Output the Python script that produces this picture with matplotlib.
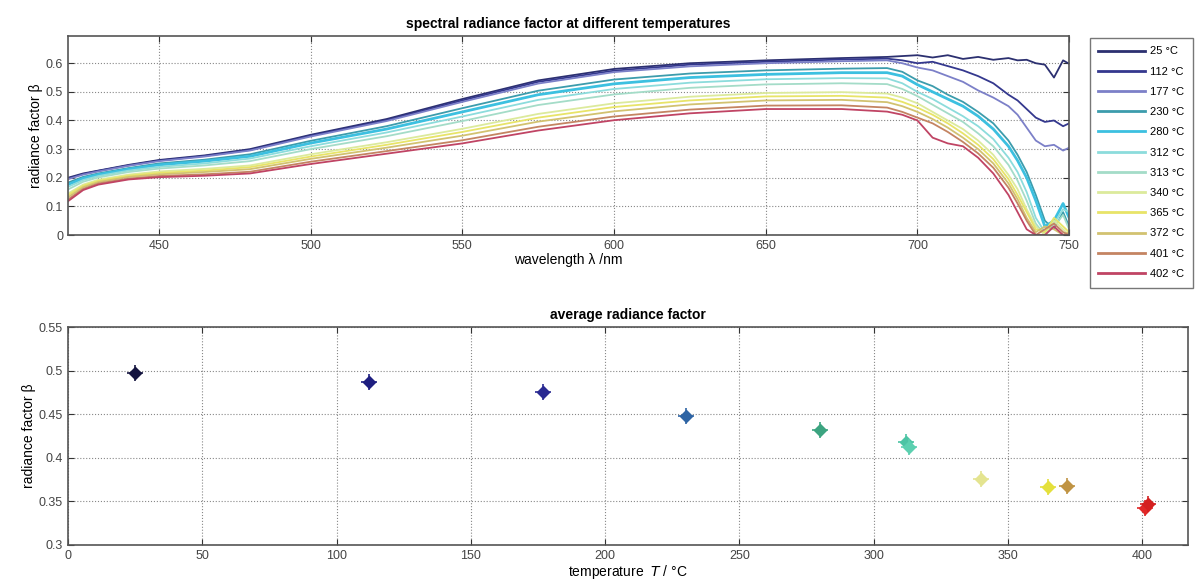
import matplotlib
matplotlib.use("Agg")
import matplotlib.pyplot as plt
import numpy as np

plt.rcParams['font.family'] = ['Liberation Sans', 'DejaVu Sans']

# wavelength nodes (nm)
wavelength = [420, 425, 430, 440, 450, 465, 480, 500, 525, 550, 575, 600, 625, 650, 675, 690,
              695, 700, 705, 710, 715, 720, 725, 730, 733, 736, 739, 742, 745, 748, 750]

temps = [25, 112, 177, 230, 280, 312, 313, 340, 365, 372, 401, 402]

r25 = [.200, .215, .225, .245, .262, .278, .300, .350, .405, .475, .540, .580, .600, .610, .618, .622,
       .625, .628, .620, .628, .615, .622, .612, .618, .610, .612, .600, .595, .550, .610, .598]
r112 = [.197, .213, .224, .243, .260, .276, .297, .347, .401, .470, .535, .574, .595, .605, .613, .616,
        .610, .600, .605, .590, .575, .555, .530, .490, .470, .440, .410, .395, .400, .380, .390]
r177 = [.195, .211, .222, .242, .258, .274, .295, .344, .398, .465, .529, .569, .589, .600, .607, .610,
        .600, .585, .575, .555, .535, .505, .480, .450, .420, .375, .330, .310, .315, .295, .305]
r230 = [.183, .203, .215, .234, .250, .263, .282, .329, .380, .443, .504, .543, .564, .575, .581, .583,
        .570, .540, .520, .490, .465, .430, .390, .330, .280, .220, .140, .050, .020, .080, .030]
r280 = [.176, .198, .211, .230, .245, .258, .275, .321, .370, .430, .490, .528, .550, .561, .567, .567,
        .555, .525, .500, .475, .450, .415, .370, .310, .260, .200, .120, .030, .050, .110, .060]
r312 = [.168, .192, .206, .225, .238, .250, .267, .310, .358, .414, .472, .510, .532, .544, .548, .547,
        .530, .500, .475, .445, .415, .380, .335, .270, .220, .150, .060, .010, .040, .090, .080]
r313 = [.159, .186, .201, .220, .232, .243, .258, .300, .345, .398, .454, .491, .514, .526, .530, .527,
        .510, .485, .455, .425, .395, .355, .310, .245, .190, .120, .040, .000, .030, .070, .020]
r340 = [.145, .176, .193, .211, .222, .231, .243, .282, .324, .371, .423, .460, .483, .496, .499, .494,
        .480, .460, .430, .400, .370, .330, .280, .210, .160, .090, .030, .000, .050, .020, .000]
r365 = [.139, .172, .189, .207, .217, .225, .237, .274, .315, .360, .410, .447, .470, .484, .486, .480,
        .465, .445, .420, .390, .355, .315, .265, .195, .140, .080, .020, .010, .060, .030, .010]
r372 = [.132, .167, .185, .203, .212, .220, .230, .266, .305, .347, .396, .432, .456, .470, .472, .464,
        .450, .430, .405, .375, .340, .300, .250, .180, .125, .060, .010, .030, .020, .000, .010]
r401 = [.124, .161, .180, .197, .206, .212, .221, .256, .293, .331, .378, .414, .438, .452, .453, .445,
        .430, .410, .390, .360, .325, .285, .235, .165, .110, .050, .000, .020, .040, .010, .000]
r402 = [.118, .157, .176, .194, .202, .207, .215, .248, .284, .320, .365, .401, .425, .440, .440, .431,
        .420, .400, .340, .320, .310, .270, .215, .140, .080, .020, .000, .000, .030, .000, .000]

spectra = [r25, r112, r177, r230, r280, r312, r313, r340, r365, r372, r401, r402]

# average radiance factor per temperature
avg_beta = [0.497, 0.487, 0.476, 0.448, 0.432, 0.418, 0.412, 0.376, 0.366, 0.368, 0.342, 0.347]

line_colors = ['#2c3070', '#34388e', '#7c80c8', '#3c9cac', '#3cc0e0', '#8cdcdc',
               '#a4dcc8', '#dcea9c', '#e8e468', '#d2c270', '#c48462', '#c04464']
marker_colors = ['#141440', '#1e1e80', '#2a2a92', '#2e64a4', '#3ca480', '#4cc4a4',
                 '#5cd0b0', '#e4e490', '#e4e03c', '#c09444', '#e02828', '#d42020']

fig = plt.figure(figsize=(11.99, 5.81), dpi=100)

# ---- top: spectra ----
ax1 = fig.add_axes([0.0567, 0.5955, 0.835, 0.3425])
for T, r, c in zip(temps, spectra, line_colors):
    lw = 2.0 if T == 280 else 1.3
    ax1.plot(wavelength, r, color=c, lw=lw, label=f"{T} °C")
ax1.set_xlim(420, 750)
ax1.set_ylim(0, 0.695)
ax1.set_xticks([450, 500, 550, 600, 650, 700, 750])
ax1.set_yticks([0, 0.1, 0.2, 0.3, 0.4, 0.5, 0.6])
ax1.set_yticklabels(['0', '0.1', '0.2', '0.3', '0.4', '0.5', '0.6'])
ax1.set_title("spectral radiance factor at different temperatures", fontsize=10,
              fontweight='bold', pad=6)
ax1.set_xlabel("wavelength λ /nm", fontsize=10, labelpad=1)
ax1.set_ylabel("radiance factor β", fontsize=10, labelpad=2)
leg = fig.legend(loc='upper left', bbox_to_anchor=(1084 / 1199, 1 - 32 / 581), fontsize=8,
                 frameon=True, fancybox=False, edgecolor='#555555', handlelength=4.2,
                 labelspacing=0.92, borderpad=0.8, handletextpad=0.4)
for h in leg.get_lines():
    h.set_linewidth(2.0)

# ---- bottom: average ----
ax2 = fig.add_axes([0.0567, 0.062, 0.934, 0.375])
for T, b, c in zip(temps, avg_beta, marker_colors):
    ax2.plot(T, b, marker='D', ms=6, color=c, mec=c, ls='none')
    ax2.plot(T, b, marker='+', ms=12, mew=1.2, color=c, ls='none')
ax2.set_xlim(0, 417)
ax2.set_ylim(0.3, 0.55)
ax2.set_xticks([0, 50, 100, 150, 200, 250, 300, 350, 400])
ax2.set_yticks([0.3, 0.35, 0.4, 0.45, 0.5, 0.55])
ax2.set_yticklabels(['0.3', '0.35', '0.4', '0.45', '0.5', '0.55'])
ax2.set_title("average radiance factor", fontsize=10, fontweight='bold', pad=6)
ax2.set_xlabel("temperature  $T$ / °C", fontsize=10, labelpad=1)
ax2.set_ylabel("radiance factor β", fontsize=10, labelpad=2)

for ax in (ax1, ax2):
    ax.grid(True, ls=':', color='#888888', lw=0.8)
    ax.tick_params(direction='in', top=True, right=True, labelsize=9, length=4,
                   colors='#333333', labelcolor='#444444')
    for s in ax.spines.values():
        s.set_color('#555555')
        s.set_linewidth(1.2)

fig.savefig("out.png", dpi=100)
